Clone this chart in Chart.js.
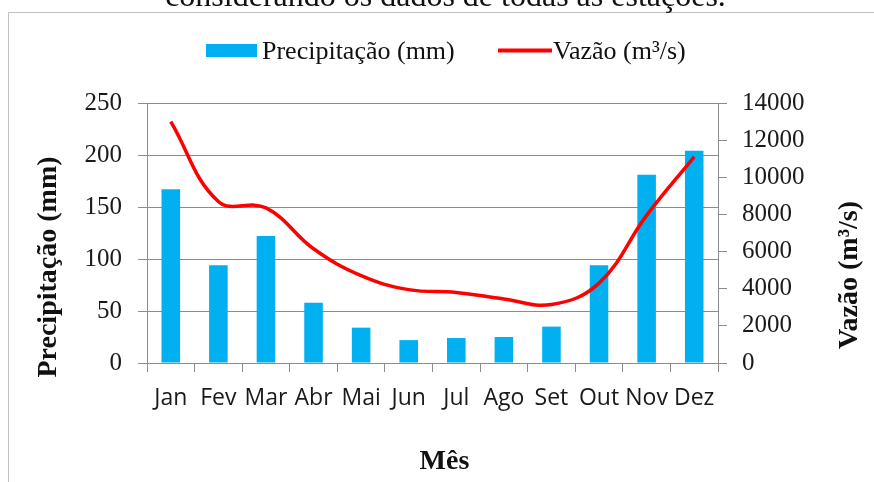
<!DOCTYPE html>
<html>
<head>
<meta charset="utf-8">
<script src="https://cdn.jsdelivr.net/npm/chart.js@4/dist/chart.umd.min.js"></script>
<style>
  html, body { margin: 0; padding: 0; background: #ffffff; }
  #wrap { width: 874px; height: 482px; position: relative; }
</style>
</head>
<body>
<div id="wrap"><canvas id="c" width="874" height="482"></canvas></div>
<script>
const titleText = 'considerando os dados de todas as estações.';
const categories = ['Jan', 'Fev', 'Mar', 'Abr', 'Mai', 'Jun', 'Jul', 'Ago', 'Set', 'Out', 'Nov', 'Dez'];
const precipitacao = [167, 94, 122, 58, 34, 22, 24, 25, 35, 94, 181, 204];
const vazao = [13000, 8700, 8350, 6150, 4700, 3950, 3800, 3450, 3150, 4300, 7950, 11100];
const precipTicks = [0, 50, 100, 150, 200, 250];
const vazaoTicks = [0, 2000, 4000, 6000, 8000, 10000, 12000, 14000];
const seriesLabels = ['Precipitação (mm)', 'Vazão (m³/s)'];
const axisTitles = { left: 'Precipitação (mm)', right: 'Vazão (m³/s)', bottom: 'Mês' };

const BLUE = '#00B0F0';
const RED = '#FF0000';
const GRID = '#8c8c8c';
const SERIF = '"Liberation Serif", "Times New Roman", serif';
const SANS = '"Open Sans", "Noto Sans", sans-serif';

const decor = {
  id: 'decor',
  beforeDraw(chart) {
    const ctx = chart.ctx;
    ctx.save();
    ctx.fillStyle = '#ffffff';
    ctx.fillRect(0, 0, chart.width, chart.height);
    ctx.strokeStyle = '#c0c0c0';
    ctx.lineWidth = 1;
    ctx.beginPath();
    ctx.moveTo(8.5, chart.height);
    ctx.lineTo(8.5, 12.5);
    ctx.lineTo(chart.width, 12.5);
    ctx.stroke();
    ctx.restore();
  },
  afterDraw(chart) {
    const ctx = chart.ctx;
    ctx.save();
    ctx.fillStyle = '#111111';
    ctx.font = '32px ' + SERIF;
    ctx.textAlign = 'center';
    ctx.textBaseline = 'alphabetic';
    ctx.fillText(titleText, 445.5, 6);

    ctx.font = '26px ' + SERIF;
    ctx.textAlign = 'left';
    ctx.fillStyle = BLUE;
    ctx.fillRect(206, 44, 51, 13);
    ctx.fillStyle = '#111111';
    ctx.fillText(seriesLabels[0], 262, 59);
    ctx.strokeStyle = RED;
    ctx.lineWidth = 4;
    ctx.beginPath();
    ctx.moveTo(498, 50.5);
    ctx.lineTo(552, 50.5);
    ctx.stroke();
    ctx.fillText(seriesLabels[1], 553, 59);

    ctx.font = 'bold 28px ' + SERIF;
    ctx.textAlign = 'center';
    ctx.save();
    ctx.translate(55.5, 267);
    ctx.rotate(-Math.PI / 2);
    ctx.fillText(axisTitles.left, 0, 0);
    ctx.restore();
    ctx.save();
    ctx.translate(857, 275);
    ctx.rotate(-Math.PI / 2);
    ctx.fillText(axisTitles.right, 0, 0);
    ctx.restore();
    ctx.fillText(axisTitles.bottom, 444.5, 469);
    ctx.restore();
  }
};

new Chart(document.getElementById('c'), {
  data: {
    labels: categories,
    datasets: [
      {
        type: 'line',
        label: seriesLabels[1],
        data: vazao,
        yAxisID: 'y1',
        borderColor: RED,
        backgroundColor: RED,
        borderWidth: 3.5,
        pointRadius: 0,
        tension: 0.4,
        fill: false,
        order: 0
      },
      {
        type: 'bar',
        label: seriesLabels[0],
        data: precipitacao,
        yAxisID: 'y',
        backgroundColor: BLUE,
        borderWidth: 0,
        categoryPercentage: 1,
        barPercentage: 0.39,
        order: 1
      }
    ]
  },
  options: {
    responsive: false,
    animation: false,
    events: [],
    layout: { padding: { top: 103, left: 0, right: 0, bottom: 0 } },
    plugins: { legend: { display: false }, tooltip: { enabled: false }, title: { display: false } },
    scales: {
      x: {
        grid: { display: true, drawOnChartArea: false, tickLength: 9, color: GRID },
        border: { color: GRID },
        ticks: { font: { family: SANS, size: 23 }, color: '#1a1a1a', padding: 13, maxRotation: 0, autoSkip: false },
        afterFit(s) { s.height = 119; }
      },
      y: {
        position: 'left',
        min: 0, max: 250,
        afterBuildTicks(s) { s.ticks = precipTicks.map(v => ({ value: v })); },
        grid: { color: GRID, tickLength: 9 },
        border: { color: GRID },
        ticks: { font: { family: SERIF, size: 25 }, color: '#1a1a1a', padding: 16 },
        afterFit(s) { s.width = 147; }
      },
      y1: {
        position: 'right',
        min: 0, max: 14000,
        afterBuildTicks(s) { s.ticks = vazaoTicks.map(v => ({ value: v })); },
        grid: { drawOnChartArea: false, color: GRID, tickLength: 9 },
        border: { color: GRID },
        ticks: { font: { family: SERIF, size: 25 }, color: '#1a1a1a', padding: 15, callback: v => String(v) },
        afterFit(s) { s.width = 156; }
      }
    }
  },
  plugins: [decor]
});
</script>
</body>
</html>
